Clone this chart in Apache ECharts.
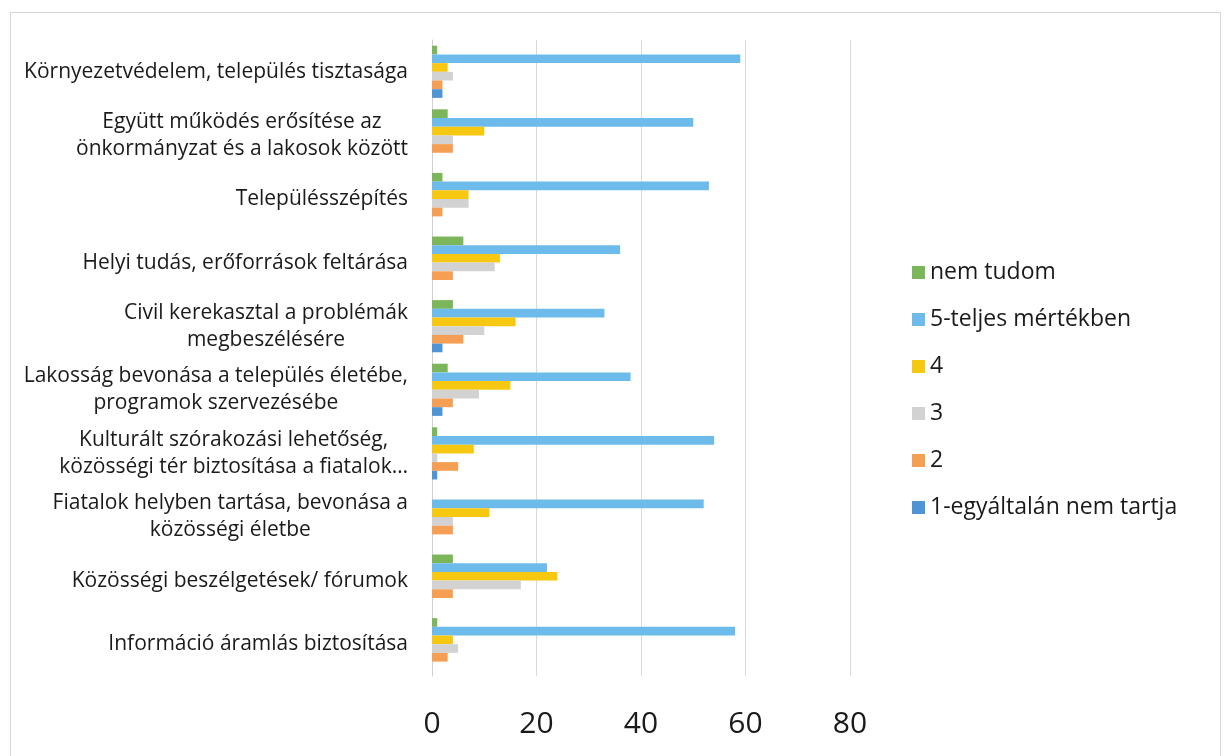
<!DOCTYPE html>
<html><head><meta charset="utf-8">
<script src="https://cdn.jsdelivr.net/npm/echarts@6/dist/echarts.min.js"></script>
<style>html,body{margin:0;padding:0;background:#fff;}#c{width:1225px;height:756px;}</style>
</head><body><div id="c"></div>
<script>
// categories listed top-to-bottom as shown
const categories = [
  "Környezetvédelem, település tisztasága",
  "Együtt működés erősítése az\nönkormányzat és a lakosok között",
  "Településszépítés",
  "Helyi tudás, erőforrások feltárása",
  "Civil kerekasztal a problémák\nmegbeszélésére",
  "Lakosság bevonása a település életébe,\nprogramok szervezésébe",
  "Kulturált szórakozási lehetőség,\nközösségi tér biztosítása a fiatalok…",
  "Fiatalok helyben tartása, bevonása a\nközösségi életbe",
  "Közösségi beszélgetések/ fórumok",
  "Információ áramlás biztosítása"
];
const seriesNames = ["nem tudom", "5-teljes mértékben", "4", "3", "2", "1-egyáltalán nem tartja"];
const nemTudom = [1, 3, 2, 6, 4, 3, 1, 0, 4, 1];
const v5 = [59, 50, 53, 36, 33, 38, 54, 52, 22, 58];
const v4 = [3, 10, 7, 13, 16, 15, 8, 11, 24, 4];
const v3 = [4, 4, 7, 12, 10, 9, 1, 4, 17, 5];
const v2 = [2, 4, 2, 4, 6, 4, 5, 4, 4, 3];
const v1 = [2, 0, 0, 0, 2, 2, 1, 0, 0, 0];
const xTicks = [0, 20, 40, 60, 80];

const colors = {
  "nem tudom": "#7cb65a",
  "5-teljes mértékben": "#6cbbea",
  "4": "#f7c811",
  "3": "#d2d2d2",
  "2": "#f59f55",
  "1-egyáltalán nem tartja": "#4f95d6"
};
const valuesByName = {
  "nem tudom": nemTudom,
  "5-teljes mértékben": v5,
  "4": v4,
  "3": v3,
  "2": v2,
  "1-egyáltalán nem tartja": v1
};
// ECharts draws category 0 at the bottom
const catsBottomUp = categories.slice().reverse();

const chart = echarts.init(document.getElementById('c'), null, {renderer: 'canvas'});
const font = "'Open Sans', 'Noto Sans', sans-serif";
chart.setOption({
  animation: false,
  backgroundColor: '#ffffff',
  graphic: [{
    type: 'rect', left: 8, top: 10, silent: true,
    shape: {width: 1210, height: 760},
    style: {fill: 'none', stroke: '#d6d6d6', lineWidth: 1}
  }],
  grid: {left: 432, right: 375, top: 40, bottom: 80, containLabel: false},
  xAxis: {
    type: 'value', min: xTicks[0], max: xTicks[xTicks.length - 1], interval: 20,
    axisLine: {show: false}, axisTick: {show: false},
    splitLine: {show: true, lineStyle: {color: '#d9d9d9', width: 1}},
    axisLabel: {fontSize: 30, color: '#1a1a1a', fontFamily: font, margin: 33}
  },
  yAxis: {
    type: 'category', data: catsBottomUp,
    axisLine: {show: true, lineStyle: {color: '#d0d0d0', width: 1}},
    axisTick: {show: false},
    axisLabel: {
      margin: 24, color: '#1a1a1a', fontFamily: font, fontSize: 21, lineHeight: 27,
      formatter: function (v) { return v.split('\n').map(function (l) { return '{c|' + l + '}'; }).join('\n'); },
      rich: {c: {align: 'center', fontSize: 21, lineHeight: 27, fontFamily: font, color: '#1a1a1a'}}
    }
  },
  legend: {
    orient: 'vertical', left: 907, top: 256,
    data: seriesNames,
    icon: 'rect', itemWidth: 13, itemHeight: 13, itemGap: 24,
    textStyle: {fontSize: 23, color: '#1a1a1a', fontFamily: font}
  },
  series: seriesNames.map(function (name) {
    return {
      name: name, type: 'bar', data: valuesByName[name].slice().reverse(),
      barGap: '0%', barCategoryGap: '18%',
      itemStyle: {color: colors[name]}
    };
  })
});
</script></body></html>
